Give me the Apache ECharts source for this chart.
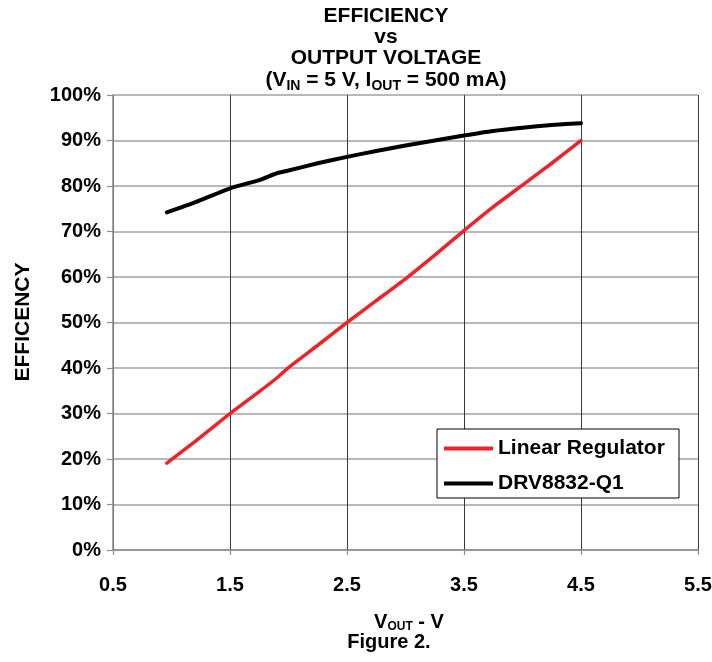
<!DOCTYPE html>
<html><head><meta charset="utf-8">
<script src="https://cdn.jsdelivr.net/npm/echarts@6/dist/echarts.min.js"></script>
<style>html,body{margin:0;padding:0;background:#fff}#c{width:712px;height:662px}</style>
</head><body><div id="c"></div>
<script>
// ---- data ----
const voltages = [0.96, 1.2, 1.5, 1.75, 1.9, 2.0, 2.25, 2.5, 2.75, 3.0, 3.25, 3.5, 3.75, 4.0, 4.25, 4.5];
const linearRegulator = [19.1, 23.8, 30.0, 34.8, 37.8, 40.1, 45.0, 50.0, 54.8, 59.6, 64.8, 70.2, 75.4, 80.2, 85.0, 90.0];
const drv8832 = [74.2, 76.4, 79.5, 81.3, 82.8, 83.4, 85.0, 86.4, 87.7, 88.9, 90.0, 91.1, 92.1, 92.8, 93.4, 93.8];
const seriesNames = ['Linear Regulator', 'DRV8832-Q1'];
const seriesColors = ['#ee2229', '#000000'];
const xMin = 0.5, xMax = 5.5, xStep = 1;
const yMin = 0, yMax = 100, yStep = 10;
const titleLines = ['EFFICIENCY', 'vs', 'OUTPUT VOLTAGE'];

const FF = '"Liberation Sans", Arial, Helvetica, sans-serif';
const pair = (xs, ys) => xs.map((x, i) => [x, ys[i]]);

const chart = echarts.init(document.getElementById('c'), null, {renderer: 'canvas'});
chart.setOption({
  animation: false,
  backgroundColor: '#fff',
  grid: {left: 113, right: 14, top: 95, bottom: 112, containLabel: false, outerBoundsMode: 'none'},
  xAxis: {
    type: 'value', min: xMin, max: xMax, interval: xStep,
    axisLine: {show: true, lineStyle: {color: '#8c8c8c', width: 1.5}},
    axisTick: {show: true, inside: false, length: 5, lineStyle: {color: '#8c8c8c', width: 1.2}},
    axisLabel: {margin: 25, fontFamily: FF, fontWeight: 'bold', fontSize: 20, color: '#000',
      formatter: v => v.toFixed(1)},
    splitLine: {show: true, lineStyle: {color: '#3a3a3a', width: 1}}
  },
  yAxis: {
    type: 'value', min: yMin, max: yMax, interval: yStep,
    axisLine: {show: true, lineStyle: {color: '#8c8c8c', width: 1.5}},
    axisTick: {show: true, inside: false, length: 6, lineStyle: {color: '#8c8c8c', width: 1.2}},
    axisLabel: {margin: 12, fontFamily: FF, fontWeight: 'bold', fontSize: 20, color: '#000',
      formatter: '{value}%'},
    splitLine: {show: true, lineStyle: {color: '#a0a0a0', width: 1.5}}
  },
  legend: {
    orient: 'vertical', left: 437, top: 429,
    padding: [8, 9, 3, 7], itemGap: 12, itemWidth: 49, itemHeight: 4, icon: 'rect',
    borderColor: '#000', borderWidth: 1, backgroundColor: '#fff', borderRadius: 0,
    textStyle: {fontFamily: FF, fontWeight: 'bold', fontSize: 21, color: '#000', width: 172, lineHeight: 23},
    data: seriesNames
  },
  series: [
    {name: seriesNames[0], type: 'line', data: pair(voltages, linearRegulator), color: seriesColors[0],
      showSymbol: false, smooth: 0.15, lineStyle: {color: seriesColors[0], width: 3.5, cap: 'round'}, z: 3},
    {name: seriesNames[1], type: 'line', data: pair(voltages, drv8832), color: seriesColors[1],
      showSymbol: false, smooth: 0.15, lineStyle: {color: seriesColors[1], width: 4, cap: 'round'}, z: 3}
  ],
  graphic: [
    {type: 'text', x: 386, y: 16, style: {text: titleLines[0], font: 'bold 21px ' + FF, fill: '#000', align: 'center', verticalAlign: 'middle'}},
    {type: 'text', x: 386, y: 37, style: {text: titleLines[1], font: 'bold 21px ' + FF, fill: '#000', align: 'center', verticalAlign: 'middle'}},
    {type: 'text', x: 386, y: 58, style: {text: titleLines[2], font: 'bold 21px ' + FF, fill: '#000', align: 'center', verticalAlign: 'middle'}},
    {type: 'text', x: 386, y: 80, style: {
      text: '(V{sub|IN} = 5 V, I{sub|OUT} = 500 mA)', font: 'bold 21px ' + FF, fill: '#000', align: 'center', verticalAlign: 'middle',
      rich: {sub: {fontFamily: FF, fontWeight: 'bold', fontSize: 14, fill: '#000', padding: [12, 0, 0, 0]}}
    }},
    {type: 'text', x: 23, y: 322, rotation: Math.PI / 2, style: {text: 'EFFICENCY', font: 'bold 21px ' + FF, fill: '#000', align: 'center', verticalAlign: 'middle'}},
    {type: 'text', x: 409, y: 622, style: {
      text: 'V{sub|OUT} - V', font: 'bold 20px ' + FF, fill: '#000', align: 'center', verticalAlign: 'middle',
      rich: {sub: {fontFamily: FF, fontWeight: 'bold', fontSize: 12, fill: '#000', padding: [10, 0, 0, 0]}}
    }},
    {type: 'text', x: 389, y: 642, style: {text: 'Figure 2.', font: 'bold 20px ' + FF, fill: '#000', align: 'center', verticalAlign: 'middle'}}
  ]
});
</script></body></html>
